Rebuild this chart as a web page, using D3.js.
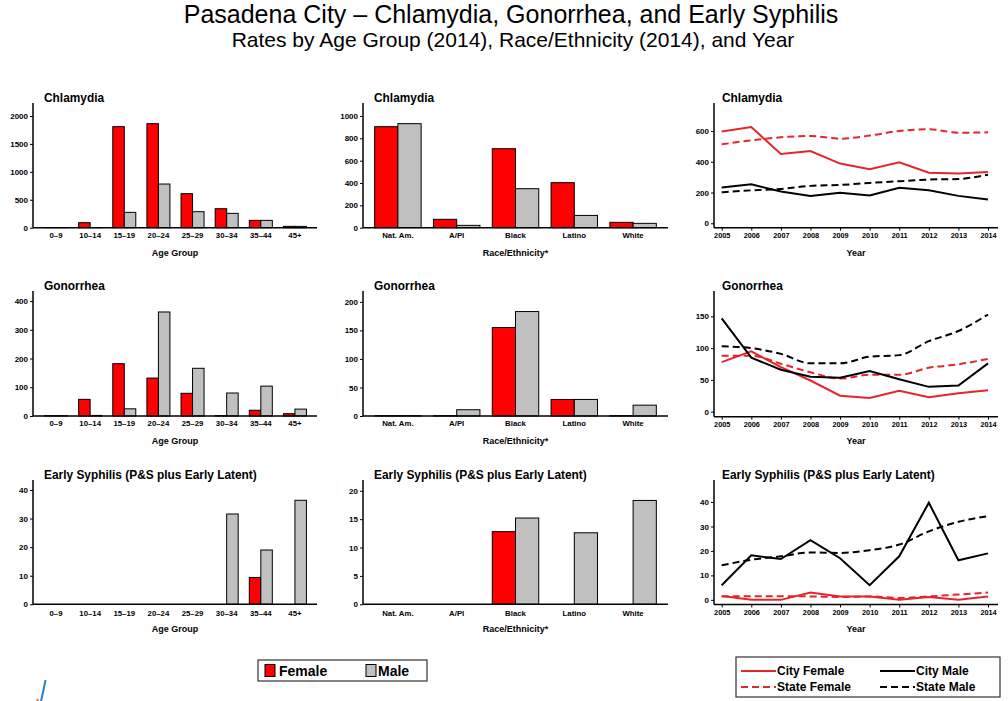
<!DOCTYPE html>
<html><head><meta charset="utf-8">
<script src="https://cdn.jsdelivr.net/npm/d3@7"></script>
<style>
body{margin:0;background:#fff;}
svg{display:block;font-family:"Liberation Sans",Arial,sans-serif;}
</style></head>
<body>
<svg id="c" width="1008" height="701"></svg>
<script>
const ageGroups = ["0–9","10–14","15–19","20–24","25–29","30–34","35–44","45+"];
const races = ["Nat. Am.","A/PI","Black","Latino","White"];
const years = [2005,2006,2007,2008,2009,2010,2011,2012,2013,2014];

const chlAgeF = [3, 90, 1809, 1863, 609, 340, 131, 24];
const chlAgeM = [3, 3, 275, 782, 287, 257, 131, 24];
const chlRaceF = [904, 75, 707, 403, 48];
const chlRaceM = [931, 21, 349, 110, 39];
const chlCityF = [596, 626, 450, 470, 388, 351, 396, 329, 323, 333];
const chlStateF = [513, 539, 559, 567, 550, 570, 600, 611, 589, 591];
const chlCityM = [232, 253, 206, 178, 199, 180, 230, 214, 178, 154];
const chlStateM = [201, 214, 223, 243, 249, 262, 273, 284, 288, 316];

const gonAgeF = [1, 58, 182, 132, 79, 1, 20, 8];
const gonAgeM = [1, 2, 25, 362, 166, 80, 104, 24];
const gonRaceF = [0.5, 0.5, 155, 29, 0.5];
const gonRaceM = [0.5, 11, 183, 29, 19];
const gonCityF = [78, 95, 70, 49, 25, 21.5, 33, 22.5, 29, 33.5];
const gonStateF = [88, 88, 75.5, 62, 52, 58, 58, 69, 74.5, 83];
const gonCityM = [147, 85, 66, 55, 53.5, 64, 51, 39, 41, 76];
const gonStateM = [103, 100, 91, 76, 76, 86.5, 89, 111, 127, 153];

const sypAgeF = [0, 0, 0, 0, 0, 0, 9.4, 0];
const sypAgeM = [0, 0, 0, 0, 0, 31.6, 19, 36.4];
const sypRaceF = [0, 0, 12.8, 0, 0];
const sypRaceM = [0, 0, 15.2, 12.6, 18.3];
const sypCityF = [1.6, 0, 0, 3, 1.4, 1.4, 0, 1.2, 0, 1.4];
const sypStateF = [1.4, 1.5, 1.5, 1.4, 1.2, 1.4, 0.8, 1.4, 2.2, 3];
const sypCityM = [6, 18.2, 16.7, 24.4, 17, 6, 17.8, 39.7, 16.2, 19];
const sypStateM = [14.1, 16.4, 17.8, 19.4, 19.2, 20.3, 22.6, 28, 31.9, 34.2];

const titles = ["Chlamydia","Gonorrhea","Early Syphilis (P&S plus Early Latent)"];
const ageTicks = [[0,500,1000,1500,2000],[0,100,200,300,400],[0,10,20,30,40]];
const raceTicks = [[0,200,400,600,800,1000],[0,50,100,150,200],[0,5,10,15,20]];
const trendTicks = [[0,200,400,600],[0,50,100,150],[0,10,20,30,40]];

const svg = d3.select("#c");
const RED = "#ff0000", GRAY = "#c0c0c0", LRED = "#e3262b";

// title
svg.append("text").attr("x",511).attr("y",23).attr("text-anchor","middle")
  .attr("font-size",25).text("Pasadena City – Chlamydia, Gonorrhea, and Early Syphilis");
svg.append("text").attr("x",513).attr("y",47).attr("text-anchor","middle")
  .attr("font-size",21).text("Rates by Age Group (2014), Race/Ethnicity (2014), and Year");

const rows = [
  {top:103, zero:227.7, tzero:223.3, taxis:227.7, titleY:102, tickY:238, labY:256},
  {top:291, zero:416, tzero:411.7, taxis:416.7, titleY:290, tickY:426, labY:444},
  {top:480, zero:604.3, tzero:600, taxis:604.5, titleY:479, tickY:616, labY:632}
];
const barMax = [[2233,1116],[435,219],[43.5,21.9]];
const trendDom = [[-29,782],[-8,190],[-1.9,49]];

const ageData = [[chlAgeF,chlAgeM],[gonAgeF,gonAgeM],[sypAgeF,sypAgeM]];
const raceData = [[chlRaceF,chlRaceM],[gonRaceF,gonRaceM],[sypRaceF,sypRaceM]];
const trendData = [[chlCityF,chlStateF,chlCityM,chlStateM],[gonCityF,gonStateF,gonCityM,gonStateM],[sypCityF,sypStateF,sypCityM,sypStateM]];

function yAxis(g, y, ticks, x0) {
  const a = g.append("g").attr("transform",`translate(${x0},0)`)
    .call(d3.axisLeft(y).tickValues(ticks).tickSize(3).tickPadding(2).tickFormat(d3.format("d")));
  a.select(".domain").remove();
  a.selectAll("line").attr("stroke","#000").attr("stroke-width",1);
  a.selectAll("text").attr("font-size",8).attr("font-weight","bold").attr("fill","#000");
}

function barPanel(r, cats, data, maxv, ticks, x0, x1, r0, r1, frac, label) {
  const row = rows[r];
  const g = svg.append("g");
  const x = d3.scaleBand().domain(cats).range([r0, r1]).padding(0);
  const y = d3.scaleLinear().domain([0, maxv]).range([row.zero, row.top]);
  const bw = x.step()*frac;
  [0,1].forEach(s => {
    g.selectAll(null).data(cats).enter().append("rect")
      .attr("x", d => x(d) + x.step()/2 - bw + s*bw)
      .attr("width", bw)
      .attr("y", (d,i) => y(data[s][i]))
      .attr("height", (d,i) => row.zero - y(data[s][i]))
      .attr("fill", s ? GRAY : RED).attr("stroke","#000").attr("stroke-width",1);
  });
  g.append("line").attr("x1",x0).attr("x2",x0).attr("y1",row.top).attr("y2",row.zero).attr("stroke","#000").attr("stroke-width",1.5);
  g.append("line").attr("x1",x0).attr("x2",x1).attr("y1",row.zero).attr("y2",row.zero).attr("stroke","#000").attr("stroke-width",1.5);
  yAxis(g, y, ticks, x0);
  g.selectAll(null).data(cats).enter().append("text")
    .attr("x", d => x(d) + x.step()/2).attr("y", row.tickY).attr("text-anchor","middle")
    .attr("font-size",7.8).attr("font-weight","bold").text(d => d);
  g.append("text").attr("x",(x0+x1)/2).attr("y",row.labY).attr("text-anchor","middle")
    .attr("font-size",9).attr("font-weight","bold").text(label);
  g.append("text").attr("x",x0+11).attr("y",row.titleY).attr("font-size",11.9).attr("font-weight","bold").text(titles[r]);
}

function trendPanel(r) {
  const row = rows[r];
  const x0 = 714, x1 = 998;
  const g = svg.append("g");
  const x = d3.scalePoint().domain(years).range([721.7, 988]);
  const yy = d3.scaleLinear().domain(trendDom[r]).range([row.taxis, row.top]);
  const styles = [
    {c:LRED, dash:null, curve:d3.curveLinear},
    {c:LRED, dash:"7,4", curve:d3.curveMonotoneX},
    {c:"#000", dash:null, curve:d3.curveLinear},
    {c:"#000", dash:"7,4", curve:d3.curveMonotoneX}
  ];
  [1,3,0,2].forEach(k => {
    const st = styles[k];
    const line = d3.line().x((d,i)=>x(years[i])).y(d=>yy(d)).curve(st.curve);
    g.append("path").attr("d", line(trendData[r][k])).attr("fill","none")
      .attr("stroke", st.c).attr("stroke-width",2).attr("stroke-dasharray", st.dash);
  });
  g.append("line").attr("x1",x0).attr("x2",x0).attr("y1",row.top).attr("y2",row.taxis).attr("stroke","#000").attr("stroke-width",1.5);
  g.append("line").attr("x1",x0).attr("x2",x1).attr("y1",row.taxis).attr("y2",row.taxis).attr("stroke","#000").attr("stroke-width",1.5);
  yAxis(g, yy, trendTicks[r], x0);
  const xa = g.append("g").attr("transform",`translate(0,${row.taxis})`)
    .call(d3.axisBottom(x).tickSize(3).tickPadding(2).tickFormat(d3.format("d")));
  xa.select(".domain").remove();
  xa.selectAll("line").attr("stroke","#000");
  xa.selectAll("text").attr("font-size",7.3).attr("font-weight","bold").attr("fill","#000");
  g.append("text").attr("x",(x0+x1)/2).attr("y",row.labY).attr("text-anchor","middle")
    .attr("font-size",9).attr("font-weight","bold").text("Year");
  g.append("text").attr("x",x0+8).attr("y",row.titleY).attr("font-size",11.9).attr("font-weight","bold").text(titles[r]);
}

for (let r=0;r<3;r++){
  barPanel(r, ageGroups, ageData[r], barMax[r][0], ageTicks[r], 33, 317, 38.95, 312, 0.337, "Age Group");
  barPanel(r, races, raceData[r], barMax[r][1], raceTicks[r], 363, 668, 368.5, 662.5, 0.395, "Race/Ethnicity*");
  trendPanel(r);
}

// bar legend
const lg = svg.append("g");
lg.append("rect").attr("x",258).attr("y",660).attr("width",169).attr("height",21).attr("fill","#fff").attr("stroke","#333").attr("stroke-width",1.2);
lg.append("rect").attr("x",265).attr("y",664.5).attr("width",10).attr("height",12).attr("fill",RED).attr("stroke","#000");
lg.append("text").attr("x",279).attr("y",676).attr("font-size",14).attr("font-weight","bold").text("Female");
lg.append("rect").attr("x",366).attr("y",664.5).attr("width",10).attr("height",12).attr("fill",GRAY).attr("stroke","#000");
lg.append("text").attr("x",378).attr("y",676).attr("font-size",14).attr("font-weight","bold").text("Male");

// line legend
const ll = svg.append("g");
ll.append("rect").attr("x",736).attr("y",657).attr("width",264).attr("height",40).attr("fill","#fff").attr("stroke","#333").attr("stroke-width",1.2);
const litems = [
  {t:"City Female", c:LRED, d:null, x:741, y:671},
  {t:"State Female", c:LRED, d:"7,4", x:741, y:687},
  {t:"City Male", c:"#000", d:null, x:880, y:671},
  {t:"State Male", c:"#000", d:"7,4", x:880, y:687}
];
litems.forEach(it => {
  ll.append("line").attr("x1",it.x).attr("x2",it.x+35).attr("y1",it.y).attr("y2",it.y)
    .attr("stroke",it.c).attr("stroke-width",2).attr("stroke-dasharray",it.d);
  ll.append("text").attr("x",it.x+36).attr("y",it.y+4).attr("font-size",12).attr("font-weight","bold").text(it.t);
});

// logo fragment
svg.append("path").attr("d","M45.5 680 Q43.5 691 41 701").attr("fill","none").attr("stroke","#2a7fc9").attr("stroke-width",2);
svg.append("circle").attr("cx",37.5).attr("cy",700).attr("r",1.3).attr("fill","#e08a3c");
</script>
</body></html>
